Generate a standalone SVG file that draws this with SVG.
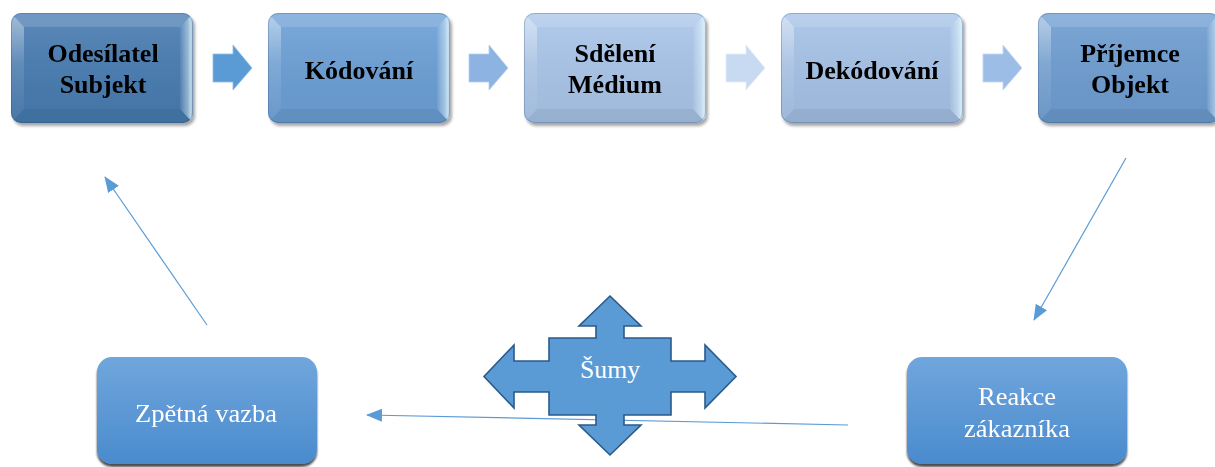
<svg xmlns="http://www.w3.org/2000/svg" xmlns:xlink="http://www.w3.org/1999/xlink" width="1215" height="467" viewBox="0 0 1215 467">
  <style>
    .title { font-family: "Liberation Serif", "Times New Roman", serif; font-weight: bold; font-size: 25px; fill: #000; text-anchor: middle; }
    .label { font-family: "Liberation Serif", "Times New Roman", serif; font-size: 25px; fill: #fff; text-anchor: middle; }
    .link { fill: none; stroke: #5b9bd5; stroke-width: 1.2; marker-end: url(#head); }
    .chev { stroke-width: 0.8; }
  </style>
  <defs>
    <marker id="head" markerUnits="userSpaceOnUse" markerWidth="16" markerHeight="13" viewBox="0 0 16 13" refX="15" refY="6.5" orient="auto">
      <path d="M0,0 L16,6.5 L0,13 Z" fill="#5b9bd5"/>
    </marker>
    <filter id="shadow" x="-10%" y="-10%" width="125%" height="130%">
      <feGaussianBlur in="SourceAlpha" stdDeviation="1.6"/>
      <feOffset dx="1.5" dy="2.5" result="b"/>
      <feComponentTransfer><feFuncA type="linear" slope="0.35"/></feComponentTransfer>
      <feMerge><feMergeNode/><feMergeNode in="SourceGraphic"/></feMerge>
    </filter>
    <filter id="shadowDark" x="-10%" y="-10%" width="120%" height="130%">
      <feGaussianBlur in="SourceAlpha" stdDeviation="0.8"/>
      <feOffset dx="0" dy="2.5" result="b"/>
      <feComponentTransfer><feFuncA type="linear" slope="0.7"/></feComponentTransfer>
      <feMerge><feMergeNode/><feMergeNode in="SourceGraphic"/></feMerge>
    </filter>
    <clipPath id="boxClip">
      <rect width="182" height="110" rx="10"/>
    </clipPath>
    <linearGradient id="faceShade" x1="0" y1="0" x2="0" y2="1">
      <stop offset="0" stop-color="#fff" stop-opacity="0.10"/>
      <stop offset="1" stop-color="#000" stop-opacity="0.06"/>
    </linearGradient>
    <linearGradient id="leftHi" x1="0" y1="0" x2="0" y2="1">
      <stop offset="0" stop-color="#fff" stop-opacity="0.45"/>
      <stop offset="0.45" stop-color="#fff" stop-opacity="0.12"/>
      <stop offset="1" stop-color="#fff" stop-opacity="0.02"/>
    </linearGradient>
    <linearGradient id="rightHi" x1="0" y1="0" x2="1" y2="0">
      <stop offset="0" stop-color="#fff" stop-opacity="0.05"/>
      <stop offset="0.6" stop-color="#e6fbff" stop-opacity="0.45"/>
      <stop offset="0.85" stop-color="#e6fbff" stop-opacity="0.75"/>
      <stop offset="1" stop-color="#fff" stop-opacity="0.3"/>
    </linearGradient>
    <linearGradient id="lowerBox" x1="0" y1="0" x2="0" y2="1">
      <stop offset="0" stop-color="#70a6dc"/>
      <stop offset="1" stop-color="#4a8bce"/>
    </linearGradient>
    <!-- bevelled face drawn over the base colour of each top box -->
    <g id="bevel">
      <g clip-path="url(#boxClip)">
        <rect width="182" height="110" fill="url(#faceShade)"/>
        <polygon points="0,0 182,0 169,14 13,14" fill="#fff" fill-opacity="0.14"/>
        <polygon points="0,0 13,14 13,96 0,110" fill="url(#leftHi)"/>
        <polygon points="182,0 182,110 169,96 169,14" fill="url(#rightHi)"/>
        <polygon points="0,110 13,96 169,96 182,110" fill="#000" fill-opacity="0.05"/>
      </g>
      <rect x="0.5" y="0.5" width="181" height="109" rx="10" fill="none" stroke="#1f3f66" stroke-opacity="0.25"/>
    </g>
    <path id="chevron" d="M0,9 L20,9 L20,0 L39,23 L20,45 L20,37 L0,37 Z"/>
  </defs>

  <!-- connectors -->
  <g id="connectors">
    <line class="link" x1="207" y1="325" x2="105" y2="177"/>
    <line class="link" x1="1126" y1="158" x2="1034" y2="320"/>
    <line class="link" x1="848" y1="425" x2="367" y2="415"/>
  </g>

  <!-- process chevrons between the top boxes -->
  <g id="chevrons" class="chev">
    <use xlink:href="#chevron" transform="translate(213,45)" fill="#5b9bd5" stroke="#8fbbe6"/>
    <use xlink:href="#chevron" transform="translate(469,45)" fill="#8cb3e1" stroke="#b5d0ef"/>
    <use xlink:href="#chevron" transform="translate(726,45)" fill="#c7daf2" stroke="#e3edf9"/>
    <use xlink:href="#chevron" transform="translate(983,45)" fill="#9cbde6" stroke="#c3d8f2"/>
  </g>

  <g id="odesilatel" transform="translate(11,13)" filter="url(#shadow)">
    <rect width="182" height="110" rx="10" fill="#487cb2"/>
    <use xlink:href="#bevel"/>
    <text class="title" transform="translate(92,49) scale(1.04,1)">Odesílatel</text>
    <text class="title" transform="translate(92,80) scale(1.04,1)">Subjekt</text>
  </g>

  <g id="kodovani" transform="translate(268,13)" filter="url(#shadow)">
    <rect width="182" height="110" rx="10" fill="#6ca0d7"/>
    <use xlink:href="#bevel"/>
    <text class="title" transform="translate(91,66) scale(1.04,1)">Kódování</text>
  </g>

  <g id="sdeleni" transform="translate(524,13)" filter="url(#shadow)">
    <rect width="182" height="110" rx="10" fill="#aac6ea"/>
    <use xlink:href="#bevel"/>
    <text class="title" transform="translate(91,49) scale(1.04,1)">Sdělení</text>
    <text class="title" transform="translate(91,80) scale(1.04,1)">Médium</text>
  </g>

  <g id="dekodovani" transform="translate(781,13)" filter="url(#shadow)">
    <rect width="182" height="110" rx="10" fill="#a6c3e8"/>
    <use xlink:href="#bevel"/>
    <text class="title" transform="translate(91,66) scale(1.04,1)">Dekódování</text>
  </g>

  <g id="prijemce" transform="translate(1038,13)" filter="url(#shadow)">
    <rect width="182" height="110" rx="10" fill="#6e9ed2"/>
    <use xlink:href="#bevel"/>
    <text class="title" transform="translate(92,49) scale(1.04,1)">Příjemce</text>
    <text class="title" transform="translate(92,80) scale(1.04,1)">Objekt</text>
  </g>

  <g id="zpetna-vazba" filter="url(#shadowDark)">
    <rect x="97" y="357" width="220" height="107" rx="15" fill="url(#lowerBox)"/>
    <text class="label" transform="translate(206,422) scale(1.06,1)">Zpětná vazba</text>
  </g>

  <g id="reakce" filter="url(#shadowDark)">
    <rect x="907" y="357" width="220" height="107" rx="15" fill="url(#lowerBox)"/>
    <text class="label" transform="translate(1017,405) scale(1.06,1)">Reakce</text>
    <text class="label" transform="translate(1017,437) scale(1.06,1)">zákazníka</text>
  </g>

  <g id="sumy">
    <path d="M610,296 L641,326 L624,326 L624,338 L671,338 L671,361 L705,361 L705,345 L736,376.5 L705,408 L705,392 L671,392 L671,415 L624,415 L624,425 L641,425 L610,455 L579,425 L596,425 L596,415 L549,415 L549,392 L514,392 L514,408 L484,376.5 L514,345 L514,361 L549,361 L549,338 L596,338 L596,326 L579,326 Z" fill="#5b9bd5" stroke="#2b5a8a" stroke-width="1.6" stroke-linejoin="miter"/>
    <text class="label" transform="translate(610,378) scale(1.03,1)">Šumy</text>
  </g>
</svg>
